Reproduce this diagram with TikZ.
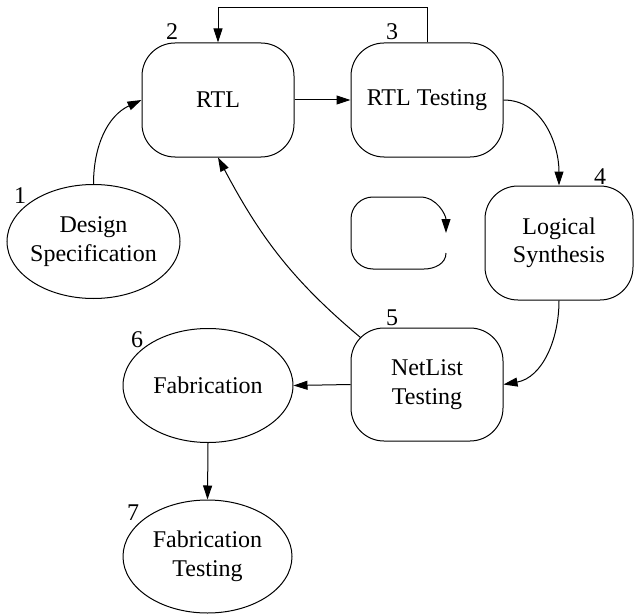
\documentclass[tikz,border=0pt]{standalone}
\usepackage{fontspec}
\setmainfont{Liberation Serif}
\newfontfamily\tnr{Liberation Serif}
\usetikzlibrary{arrows.meta,calc,shapes.geometric}
\begin{document}
\begin{tikzpicture}[x=1pt,y=-1pt,
  every node/.style={font=\tnr\fontsize{24}{28.5}\selectfont},
  rbox/.style={draw, line width=1pt, rounded corners=33pt, minimum width=152pt, minimum height=114pt, align=center, inner sep=0pt},
  ell/.style={draw, line width=1pt, ellipse, minimum width=172pt, minimum height=114pt, align=center, inner sep=0pt},
  num/.style={inner sep=0pt},
  conn/.style={line width=1pt, -{Triangle[length=14pt,width=9pt]}}
]
\useasboundingbox (0,0) rectangle (634,615);
\node[rbox] (rtl) at (218,100) {RTL};
\node[rbox] (rtlt) at (427,100) {RTL Testing};
\node[rbox, minimum width=148pt] (ls) at (559,243) {Logical\\Synthesis};
\node[rbox, minimum height=113pt] (nl) at (427,384.5) {NetList\\Testing};
\node[ell, minimum width=173pt, inner xsep=-5pt] (ds) at (93.5,241.5) {Design\\Specification};
\node[ell, minimum width=170pt] (fab) at (208,385.5) {Fabrication};
\node[ell, minimum width=169pt, minimum height=113pt] (fabt) at (207.5,556.5) {Fabrication\\Testing};

\node[num] (n1) at (20,196) {1};
\node[num] (n2) at (172,32) {2};
\node[num] (n3) at (392,32) {3};
\node[num] (n4) at (600,177) {4};
\node[num] (n5) at (392,318) {5};
\node[num] (n6) at (137,340) {6};
\node[num] (n7) at (133,513) {7};

\coordinate (nlc) at ($(nl.north west)+(10,10)$);

\draw[conn] (ds.north) to[out=90,in=205] (rtl.west);
\draw[conn] (rtl.east) -- (rtlt.west);
\draw[conn] (rtlt.north) -- ++(0,-35) -| (rtl.north);
\draw[conn] (rtlt.east) to[out=0,in=90] (ls.north);
\draw[conn] (ls.south) to[out=-90,in=10] (nl.east);
\draw[conn] (nlc) to[out=140,in=-62] (rtl.south);
\draw[conn] (nl.west) -- (fab.east);
\draw[conn] (fab.south) -- (fabt.north);

% small cycle symbol
\draw[conn] (446,253) to[out=-90,in=0] (424,269) -- (373,269)
  to[out=180,in=-90] (351,247) -- (351,219) to[out=90,in=180] (373,197)
  -- (420,197) to[out=0,in=90] (446,233);
\end{tikzpicture}
\end{document}
